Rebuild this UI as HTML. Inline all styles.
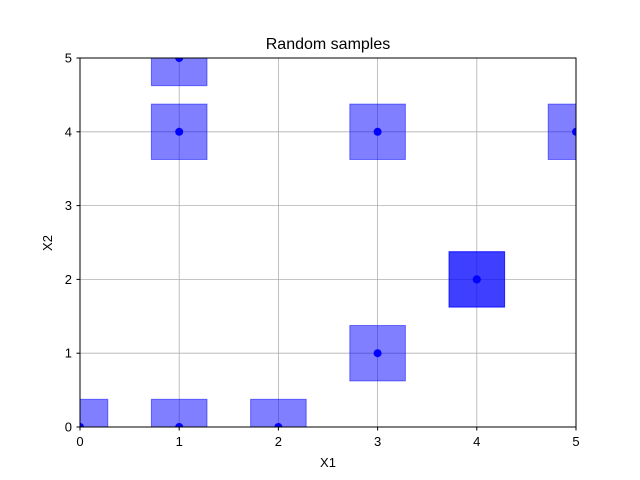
<!DOCTYPE html>
<html><head><meta charset="utf-8"><style>
body{margin:0;background:#fff;}
svg{display:block;font-family:"Liberation Sans","DejaVu Sans",sans-serif;}
</style></head><body>
<svg id="chart" width="640" height="480">
<defs><clipPath id="clip"><rect x="80" y="58" width="496" height="369"/></clipPath></defs>
<g id="grid"></g>
<g id="marks" clip-path="url(#clip)"></g>
<rect x="80" y="58" width="496" height="369" fill="none" stroke="#000" stroke-width="1"/>
<g id="ticks"></g>
<text x="328" y="49" text-anchor="middle" font-size="16">Random samples</text>
<text x="328" y="467" text-anchor="middle" font-size="13">X1</text>
<text x="52" y="243" text-anchor="middle" font-size="13" transform="rotate(-90 52 243)">X2</text>
</svg>
<script>
const xs=[0,1,2,3,4,4,1,3,5,1];
const ys=[0,0,0,1,2,2,4,4,4,5];
const xTicks=[0,1,2,3,4,5];
const yTicks=[0,1,2,3,4,5];
const halfW=0.28, halfH=0.375;
const X=v=>80+v*99.2, Y=v=>427-v*73.8;
const NS="http://www.w3.org/2000/svg";
function mk(t,a,p){const e=document.createElementNS(NS,t);for(const k in a)e.setAttribute(k,a[k]);p.appendChild(e);return e;}
const grid=document.getElementById('grid'),ticks=document.getElementById('ticks'),marks=document.getElementById('marks');
xTicks.forEach(v=>{
 const g=mk('line',{x1:X(v),x2:X(v),y1:58,y2:427,stroke:'#b0b0b0','stroke-width':0.8},grid);
 
 
 const t=mk('line',{x1:X(v),x2:X(v),y1:427,y2:430.5,stroke:'#000'},ticks);
 
 
 const l=mk('text',{x:X(v),y:446,'text-anchor':'middle','font-size':13},ticks);l.textContent=v;
 
 
});
yTicks.forEach(v=>{
 const g=mk('line',{x1:80,x2:576,y1:Y(v),y2:Y(v),stroke:'#b0b0b0','stroke-width':0.8},grid);
 
 
 const t=mk('line',{x1:76.5,x2:80,y1:Y(v),y2:Y(v),stroke:'#000'},ticks);
 
 
 const l=mk('text',{x:72,y:Y(v)+4.5,'text-anchor':'end','font-size':13},ticks);l.textContent=v;
 
 
});
xs.forEach((x,i)=>{
 const y=ys[i];
 const r=mk('rect',{x:X(x-halfW),y:Y(y+halfH),width:X(x+halfW)-X(x-halfW),height:Y(y-halfH)-Y(y+halfH),fill:'rgba(0,0,255,0.5)',stroke:'rgba(0,0,255,0.5)','stroke-width':1},marks);
 
 
});
xs.forEach((x,i)=>{
 const c=mk('circle',{cx:X(x),cy:Y(ys[i]),r:4,fill:'#0000ff'},marks);
 
 
});
</script>
</body></html>
